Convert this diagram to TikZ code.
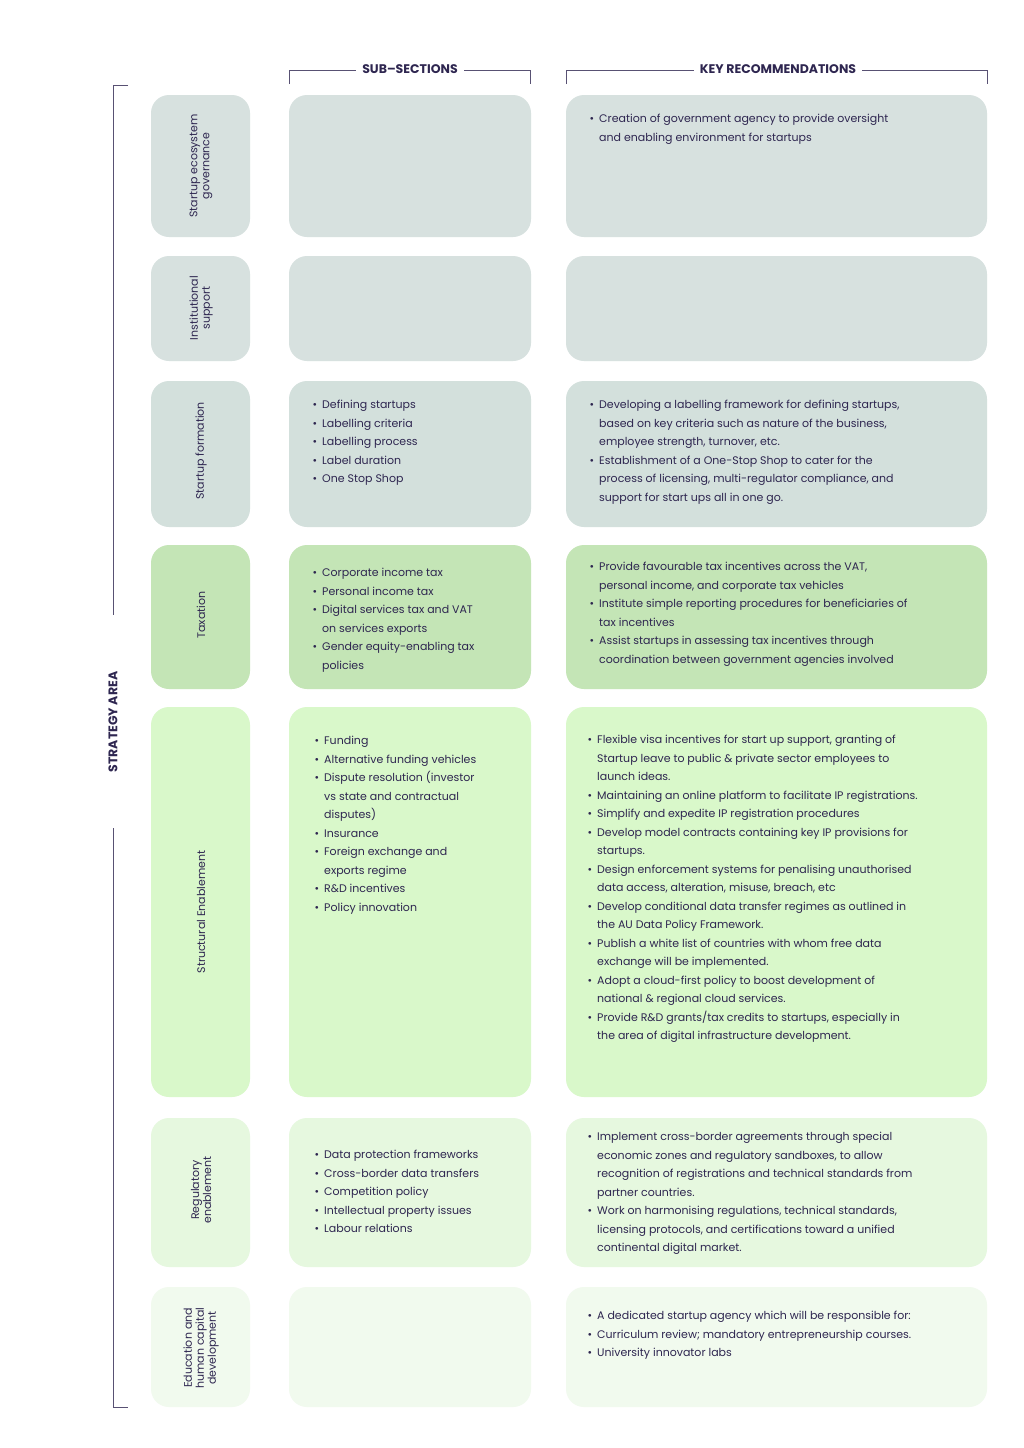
\documentclass[tikz,border=0pt]{standalone}
\usepackage{fontspec}
\setmainfont{Poppins}
\usepackage{enumitem}
\definecolor{txt}{HTML}{2E2650}
\definecolor{cA}{HTML}{D7E1DF}
\definecolor{cB}{HTML}{D3E0DC}
\definecolor{cC}{HTML}{C4E5B6}
\definecolor{cD}{HTML}{D9F8CA}
\definecolor{cE}{HTML}{E6F8DF}
\definecolor{cF}{HTML}{F1FAEE}
\setlist[itemize]{leftmargin=16pt,itemsep=0pt,topsep=0pt,parsep=0pt,partopsep=0pt,label=\textbullet}
\begin{document}
\begin{tikzpicture}[x=1pt,y=-1pt,
  box/.style={rounded corners=18pt},
  lab/.style={rotate=90,align=center,text=txt,font=\fontsize{11}{12}\selectfont},
  body/.style={anchor=north west,inner sep=0pt,text=txt,font=\fontsize{11}{18.5}\selectfont},
  hdr/.style={text=txt,font=\fontsize{12.5}{14}\selectfont\bfseries,fill=white,inner xsep=6pt},
  brk/.style={draw=txt!80,line width=1pt}]
\useasboundingbox (0,0) rectangle (1024,1448);
\fill[white] (0,0) rectangle (1024,1448);
% brackets
\draw[brk] (289,84) -- (289,70) -- (530,70) -- (530,84);
\node[hdr] (h1) at (410,69) {SUB–SECTIONS};
\draw[brk] (566,84) -- (566,70) -- (987,70) -- (987,84);
\node[hdr] (h2) at (778,69) {KEY RECOMMENDATIONS};
\draw[brk] (128,85) -- (113,85) -- (113,615);
\draw[brk] (113,828) -- (113,1407) -- (128,1407);
\node[text=txt,rotate=90,font=\fontsize{12.5}{14}\selectfont\bfseries] (sa) at (113,722) {STRATEGY AREA};
% rows
\foreach \t/\b/\c in {95/237/cA,256/361/cA,381/527/cB,545/689/cC,707/1097/cD,1118/1267/cE,1287/1407/cF}{
  \fill[\c,box] (151,\t) rectangle (250,\b);
  \fill[\c,box] (289,\t) rectangle (531,\b);
  \fill[\c,box] (566,\t) rectangle (987,\b);
}
\node[lab] (l1) at (201,166) {Startup ecosystem\\governance};
\node[lab] (l2) at (201,308) {Institutional\\support};
\node[lab] (l3) at (201,451) {Startup formation};
\node[lab] (l4) at (201,615) {Taxation};
\node[lab] (l5) at (201,912) {Structural Enablement};
\node[lab] (l6) at (201,1190) {Regulatory\\enablement};
\node[lab] (l7) at (201,1348) {Education and\\human capital\\development};
% mid
\node[body] (m3) at (306,400) {\begin{minipage}{215pt}\begin{itemize}
\item Defining startups
\item Labelling criteria
\item Labelling process
\item Label duration
\item One Stop Shop
\end{itemize}\end{minipage}};
\node[body] (m4) at (306,568) {\begin{minipage}{215pt}\begin{itemize}
\item Corporate income tax
\item Personal income tax
\item Digital services tax and VAT\\on services exports
\item Gender equity-enabling tax\\policies
\end{itemize}\end{minipage}};
\node[body] (m5) at (308,736) {\begin{minipage}{215pt}\begin{itemize}
\item Funding
\item Alternative funding vehicles
\item Dispute resolution (investor\\vs state and contractual\\disputes)
\item Insurance
\item Foreign exchange and\\exports regime
\item R\&D incentives
\item Policy innovation
\end{itemize}\end{minipage}};
\node[body] (m6) at (308,1150) {\begin{minipage}{215pt}\begin{itemize}
\item Data protection frameworks
\item Cross-border data transfers
\item Competition policy
\item Intellectual property issues
\item Labour relations
\end{itemize}\end{minipage}};
% right
\node[body] (r1) at (583,114) {\begin{minipage}{400pt}\begin{itemize}
\item Creation of government agency to provide oversight\\and enabling environment for startups
\end{itemize}\end{minipage}};
\node[body] (r3) at (583,400) {\begin{minipage}{400pt}\begin{itemize}
\item Developing a labelling framework for defining startups,\\based on key criteria such as nature of the business,\\employee strength, turnover, etc.
\item Establishment of a One-Stop Shop to cater for the\\process of licensing, multi-regulator compliance, and\\support for start ups all in one go.
\end{itemize}\end{minipage}};
\node[body] (r4) at (583,562) {\begin{minipage}{400pt}\begin{itemize}
\item Provide favourable tax incentives across the VAT,\\personal income, and corporate tax vehicles
\item Institute simple reporting procedures for beneficiaries of\\tax incentives
\item Assist startups in assessing tax incentives through\\coordination between government agencies involved
\end{itemize}\end{minipage}};
\node[body] (r5) at (581,735) {\begin{minipage}{400pt}\begin{itemize}
\item Flexible visa incentives for start up support, granting of\\Startup leave to public \& private sector employees to\\launch ideas.
\item Maintaining an online platform to facilitate IP registrations.
\item Simplify and expedite IP registration procedures
\item Develop model contracts containing key IP provisions for\\startups.
\item Design enforcement systems for penalising unauthorised\\data access, alteration, misuse, breach, etc
\item Develop conditional data transfer regimes as outlined in\\the AU Data Policy Framework.
\item Publish a white list of countries with whom free data\\exchange will be implemented.
\item Adopt a cloud-first policy to boost development of\\national \& regional cloud services.
\item Provide R\&D grants/tax credits to startups, especially in\\the area of digital infrastructure development.
\end{itemize}\end{minipage}};
\node[body] (r6) at (581,1132) {\begin{minipage}{400pt}\begin{itemize}
\item Implement cross-border agreements through special\\economic zones and regulatory sandboxes, to allow\\recognition of registrations and technical standards from\\partner countries.
\item Work on harmonising regulations, technical standards,\\licensing protocols, and certifications toward a unified\\continental digital market.
\end{itemize}\end{minipage}};
\node[body] (r7) at (581,1311) {\begin{minipage}{400pt}\begin{itemize}
\item A dedicated startup agency which will be responsible for:
\item Curriculum review; mandatory entrepreneurship courses.
\item University innovator labs
\end{itemize}\end{minipage}};
\end{tikzpicture}
\end{document}
